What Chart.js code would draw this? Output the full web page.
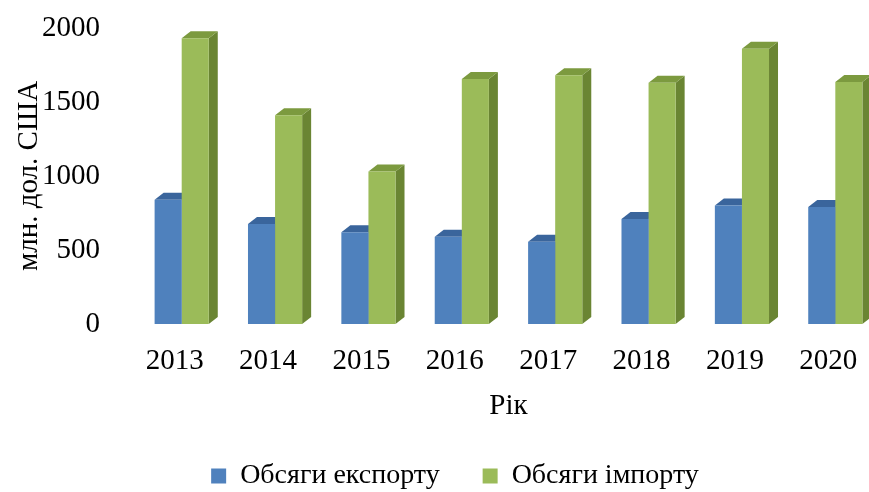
<!DOCTYPE html>
<html lang="uk">
  <head>
    <meta charset="UTF-8" />
    <title>Обсяги експорту та імпорту</title>
    <style>
      html,
      body {
        margin: 0;
        padding: 0;
        background: #fff;
        overflow: hidden;
      }
      .wrap {
        width: 869px;
        height: 492px;
        overflow: hidden;
      }
    </style>
  </head>
  <body>
    <div class="wrap">
      <canvas id="tradeChart" width="910" height="504"></canvas>
    </div>

    <script src="https://cdn.jsdelivr.net/npm/chart.js@4"></script>
    <script>
      const years = ['2013', '2014', '2015', '2016', '2017', '2018', '2019', '2020'];
      const exportValues = [840, 675, 620, 590, 555, 710, 800, 790];
      const importValues = [1930, 1410, 1030, 1655, 1680, 1630, 1860, 1635];
      const yTicks = [0, 500, 1000, 1500, 2000];

      const serif = 'Liberation Serif, Times New Roman, serif';

      // side and top faces, drawn before the flat fronts
      const depth = { dx: 9, dy: 7 };
      const faceColors = [
        { top: '#3a659c', side: '#345b8c' },
        { top: '#7c9a3f', side: '#6a8533' },
      ];

      const box3d = {
        id: 'box3d',
        beforeDatasetsDraw(chart) {
          const ctx = chart.ctx;
          ctx.save();
          chart.data.datasets.forEach((ds, di) => {
            const meta = chart.getDatasetMeta(di);
            meta.data.forEach((bar) => {
              const x0 = bar.x - bar.width / 2;
              const x1 = bar.x + bar.width / 2;
              const top = bar.y;
              const base = bar.base;
              // right side
              ctx.fillStyle = faceColors[di].side;
              ctx.beginPath();
              ctx.moveTo(x1, base);
              ctx.lineTo(x1 + depth.dx, base - depth.dy);
              ctx.lineTo(x1 + depth.dx, top - depth.dy);
              ctx.lineTo(x1, top);
              ctx.closePath();
              ctx.fill();
              // top
              ctx.fillStyle = faceColors[di].top;
              ctx.beginPath();
              ctx.moveTo(x0, top);
              ctx.lineTo(x1, top);
              ctx.lineTo(x1 + depth.dx, top - depth.dy);
              ctx.lineTo(x0 + depth.dx, top - depth.dy);
              ctx.closePath();
              ctx.fill();
            });
          });
          ctx.restore();
        },
      };

      new Chart(document.getElementById('tradeChart'), {
        type: 'bar',
        data: {
          labels: years,
          datasets: [
            {
              label: 'Обсяги експорту',
              data: exportValues,
              backgroundColor: '#4f81bd',
              categoryPercentage: 0.58,
              barPercentage: 1.0,
            },
            {
              label: 'Обсяги імпорту',
              data: importValues,
              backgroundColor: '#9bbb59',
              categoryPercentage: 0.58,
              barPercentage: 1.0,
            },
          ],
        },
        options: {
          responsive: false,
          animation: false,
          layout: { padding: { top: 28, right: 28, left: 28, bottom: 4 } },
          plugins: {
            tooltip: { enabled: false },
            legend: {
              position: 'bottom',
              labels: {
                boxWidth: 15,
                boxHeight: 15,
                padding: 43,
                color: '#000',
                font: { family: serif, size: 28 },
              },
            },
          },
          scales: {
            x: {
              grid: { display: false, drawTicks: false },
              border: { display: false },
              afterFit(scale) {
                scale.height = 95;
                scale.paddingLeft = 0;
                scale.paddingRight = 0;
              },
              ticks: {
                color: '#000',
                padding: 20,
                labelOffset: -7,
                maxRotation: 0,
                font: { family: serif, size: 29 },
              },
              title: {
                display: true,
                text: 'Рік',
                color: '#000',
                padding: { top: 0, bottom: -5 },
                font: { family: serif, size: 29 },
              },
            },
            y: {
              min: 0,
              max: 2000,
              grid: { display: false, drawTicks: false },
              border: { display: false },
              afterBuildTicks(scale) {
                scale.ticks = yTicks.map((v) => ({ value: v }));
              },
              afterFit(scale) {
                scale.width = 107;
                scale.paddingTop = 0;
                scale.paddingBottom = 0;
              },
              ticks: {
                color: '#000',
                padding: 35,
                font: { family: serif, size: 29 },
                callback: (v) => String(v),
              },
              title: {
                display: true,
                text: 'млн. дол. США',
                color: '#000',
                padding: { top: -16, bottom: 0 },
                font: { family: serif, size: 29 },
              },
            },
          },
        },
        plugins: [box3d],
      });
    </script>
  </body>
</html>
